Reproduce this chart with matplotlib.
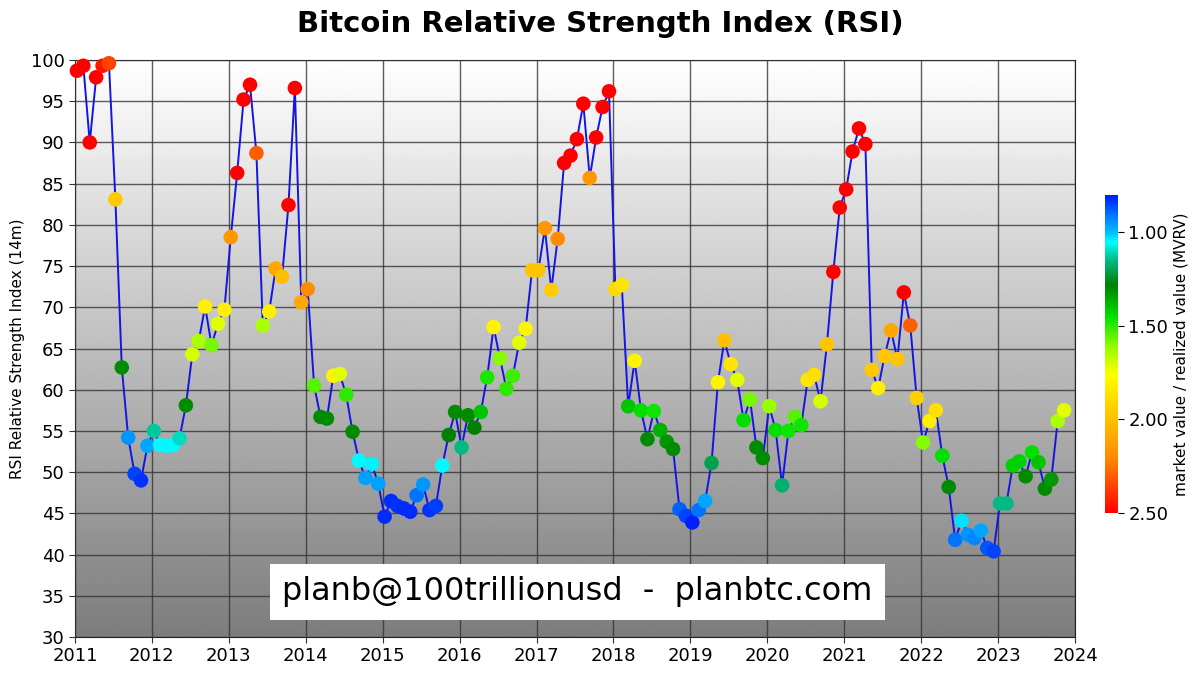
import numpy as np
import pandas as pd
import matplotlib
matplotlib.use("Agg")
import matplotlib.pyplot as plt
from matplotlib.colors import LinearSegmentedColormap, Normalize

# ---------------- data ----------------
start_month = "2011-01-01"
rsi = [98.7, 99.3, 90.0, 97.9, 99.3, 99.6, 83.1, 62.7, 54.2, 49.8, 49.0, 53.2,
       55.0, 53.3, 53.2, 53.3, 54.1, 58.1, 64.3, 65.9, 70.1, 65.4, 68.0, 69.7,
       78.5, 86.3, 95.2, 97.0, 88.7, 67.8, 69.5, 74.7, 73.7, 82.4, 96.6, 70.6,
       72.2, 60.5, 56.7, 56.5, 61.7, 61.9, 59.4, 54.9, 51.4, 49.3, 51.0, 48.6,
       44.6, 46.5, 45.9, 45.6, 45.2, 47.2, 48.5, 45.4, 45.9, 50.8, 54.5, 57.3,
       53.0, 56.9, 55.4, 57.3, 61.5, 67.6, 63.8, 60.1, 61.7, 65.7, 67.4, 74.5,
       74.5, 79.6, 72.1, 78.3, 87.5, 88.4, 90.4, 94.7, 85.7, 90.6, 94.3, 96.2,
       72.2, 72.7, 58.0, 63.5, 57.5, 54.0, 57.4, 55.1, 53.7, 52.8, 45.5, 44.7,
       43.9, 45.4, 46.5, 51.1, 60.9, 66.0, 63.1, 61.2, 56.3, 58.8, 53.0, 51.7,
       58.0, 55.1, 48.4, 55.0, 56.7, 55.7, 61.2, 61.8, 58.6, 65.5, 74.3, 82.1,
       84.3, 88.9, 91.7, 89.8, 62.4, 60.2, 64.1, 67.2, 63.7, 71.8, 67.8, 59.0,
       53.6, 56.2, 57.5, 52.0, 48.2, 41.8, 44.1, 42.4, 42.0, 42.9, 40.8, 40.4,
       46.2, 46.2, 50.8, 51.3, 49.5, 52.4, 51.2, 48.0, 49.1, 56.2, 57.5]

mvrv = [2.5, 2.5, 2.5, 2.5, 2.45, 2.35, 1.95, 1.30, 0.95, 0.85, 0.83, 0.97,
        1.13, 1.05, 1.05, 1.05, 1.10, 1.30, 1.70, 1.65, 1.82, 1.58, 1.72, 1.82,
        2.15, 2.5, 2.5, 2.5, 2.30, 1.65, 1.82, 2.10, 2.00, 2.5, 2.5, 2.10,
        2.20, 1.55, 1.30, 1.30, 1.80, 1.72, 1.50, 1.30, 1.05, 0.96, 1.04, 0.96,
        0.82, 0.82, 0.83, 0.82, 0.82, 0.90, 0.95, 0.83, 0.84, 1.05, 1.28, 1.30,
        1.15, 1.30, 1.28, 1.40, 1.48, 1.80, 1.60, 1.50, 1.52, 1.72, 1.80, 1.98,
        1.98, 2.15, 1.95, 2.20, 2.5, 2.5, 2.5, 2.5, 2.15, 2.5, 2.5, 2.5,
        1.90, 1.85, 1.40, 1.80, 1.45, 1.30, 1.47, 1.37, 1.32, 1.30, 0.88, 0.85,
        0.81, 0.90, 0.97, 1.20, 1.80, 2.00, 1.85, 1.72, 1.45, 1.58, 1.30, 1.30,
        1.62, 1.45, 1.17, 1.47, 1.55, 1.47, 1.85, 1.88, 1.70, 1.98, 2.5, 2.5,
        2.5, 2.5, 2.5, 2.5, 1.95, 1.82, 1.97, 2.10, 1.97, 2.5, 2.30, 1.93,
        1.60, 1.82, 1.88, 1.45, 1.30, 0.90, 1.03, 0.95, 0.93, 0.97, 0.87, 0.85,
        1.15, 1.15, 1.42, 1.42, 1.30, 1.45, 1.40, 1.30, 1.33, 1.65, 1.72]

years = list(range(2011, 2025))
yticks = list(range(30, 101, 5))
cbar_ticks = [1.0, 1.5, 2.0, 2.5]

# ---------------- positions ----------------
dates = pd.date_range(start_month, periods=len(rsi), freq="MS")
x = dates.year + (dates.month - 1 + 0.3) / 12.0

# ---------------- colormap ----------------
vmin, vmax = 0.8, 2.5
nodes = [(0.80, (0.0, 0.10, 1.0)),
         (0.90, (0.0, 0.45, 1.0)),
         (1.00, (0.0, 0.75, 1.0)),
         (1.05, (0.0, 1.0, 1.0)),
         (1.15, (0.0, 0.72, 0.50)),
         (1.28, (0.0, 0.50, 0.0)),
         (1.45, (0.0, 0.88, 0.0)),
         (1.62, (0.60, 1.0, 0.0)),
         (1.76, (1.0, 1.0, 0.0)),
         (1.95, (1.0, 0.80, 0.0)),
         (2.20, (1.0, 0.55, 0.0)),
         (2.50, (1.0, 0.0, 0.0))]
cmap = LinearSegmentedColormap.from_list(
    "mvrv", [((v - vmin) / (vmax - vmin), c) for v, c in nodes])
norm = Normalize(vmin=vmin, vmax=vmax)

# ---------------- figure ----------------
fig = plt.figure(figsize=(12, 6.76), dpi=100)
ax = fig.add_axes([75 / 1200, 1 - 637 / 676, 1000 / 1200, 577 / 676])

# gradient background
grad = np.linspace(1.0, 0.49, 256).reshape(-1, 1)
ax.imshow(grad, cmap="gray", vmin=0, vmax=1, aspect="auto",
          extent=[2011, 2024, 30, 100], origin="upper", zorder=0)

ax.set_xlim(2011, 2024)
ax.set_ylim(30, 100)
ax.set_xticks(years)
ax.set_yticks(yticks)
ax.grid(True, color="#333333", linewidth=1.0, alpha=0.8, zorder=1)
ax.set_axisbelow(False)
for s in ax.spines.values():
    s.set_color("#222222")

ax.plot(x, rsi, color="#1515e0", linewidth=1.4, zorder=3)
sc = ax.scatter(x, rsi, c=mvrv, cmap=cmap, norm=norm, s=110,
                edgecolors="none", zorder=4, clip_on=False)

ax.tick_params(axis="both", labelsize=13, length=4, color="#333333")
ax.set_ylabel("RSI Relative Strength Index (14m)", fontsize=11)

fig.suptitle("Bitcoin Relative Strength Index (RSI)", fontsize=21,
             fontweight="bold", y=0.985)

ax.text(2017.53, 35.5, "planb@100trillionusd  -  planbtc.com", fontsize=23,
        ha="center", va="center", zorder=6,
        bbox=dict(facecolor="white", edgecolor="none", pad=9))

# colorbar
cax = fig.add_axes([1105 / 1200, 1 - 513 / 676, 13 / 1200, 318 / 676])
cb = fig.colorbar(sc, cax=cax, ticks=cbar_ticks, format="%.2f")
cax.invert_yaxis()
cb.outline.set_visible(False)
cax.tick_params(labelsize=13, length=4)
cb.set_label("market value / realized value (MVRV)", fontsize=11)

fig.savefig("out.png", dpi=100)
